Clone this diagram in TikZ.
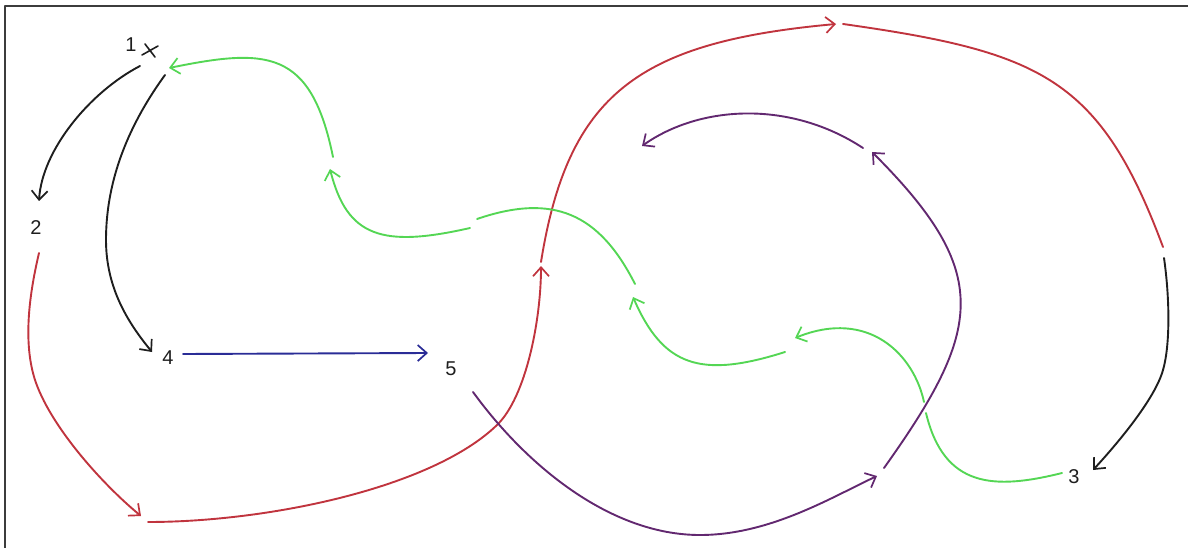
\documentclass[tikz,border=0pt]{standalone}
\usepackage{fontspec}
\setmainfont{Liberation Sans}
\usetikzlibrary{arrows.meta}
\definecolor{cred}{RGB}{192,52,62}
\definecolor{cgreen}{RGB}{84,214,84}
\definecolor{cpurple}{RGB}{98,40,112}
\definecolor{cblue}{RGB}{42,44,150}
\definecolor{cblack}{RGB}{30,30,30}
\definecolor{cframe}{RGB}{60,60,60}
\begin{document}
\begin{tikzpicture}[x=1pt,y=-1pt,line cap=round,line join=round,
  tipped/.style={line width=1.9pt,-{Straight Barb[length=9pt,width=16pt,line width=1.7pt]}},
  plain/.style={line width=1.9pt},
  lbl/.style={font=\fontsize{20}{22}\selectfont,inner sep=0pt,text=cblack}]
\useasboundingbox (0,0) rectangle (1188,548);
\draw[cframe,line width=1.8pt] (5,548) -- (5,6) -- (1188,6);
% labels
\node[lbl] (n1) at (131,45) {1};
\node[lbl] (n2) at (36,228) {2};
\node[lbl] (n3) at (1074,477) {3};
\node[lbl] (n4) at (168,358) {4};
\node[lbl] (n5) at (451,369) {5};
% cross mark beside 1
\draw[cblack,line width=1.6pt] (145,44) -- (155,57) (142,55) -- (158,46);
% named end points
\coordinate (b1s) at (140,66);  \coordinate (b1e) at (39,201);
\coordinate (b2s) at (165,75);  \coordinate (b2e) at (152,352);
\coordinate (bls) at (183,354); \coordinate (ble) at (428,353);
\coordinate (ras) at (39,253);  \coordinate (rae) at (141,516);
\coordinate (rbs) at (148,522); \coordinate (rbe) at (541,266);
\coordinate (rcs) at (541,262); \coordinate (rce) at (836,24);
\coordinate (rds) at (843,24);  \coordinate (rde) at (1163,247);
\coordinate (bes) at (1164,258);\coordinate (bee) at (1093,470);
\coordinate (pas) at (473,392); \coordinate (pae) at (877,476);
\coordinate (pbs) at (884,468); \coordinate (pbe) at (872,152);
\coordinate (pcs) at (863,148); \coordinate (pce) at (642,146);
\coordinate (gas) at (1062,473);\coordinate (gam) at (926,413);
\coordinate (gan) at (924,402); \coordinate (gae) at (795,338);
\coordinate (gbs) at (785,352); \coordinate (gbe) at (633,297);
\coordinate (gcs) at (635,284); \coordinate (gce) at (477,219);
\coordinate (gds) at (470,228); \coordinate (gde) at (330,169);
\coordinate (ges) at (333,157); \coordinate (gee) at (169,68);
% black
\draw[tipped,cblack] (b1s) .. controls (90,92) and (42,150) .. (b1e);
\draw[tipped,cblack] (b2s) .. controls (125,130) and (106,185) .. (106,240)
                          .. controls (106,290) and (130,325) .. (b2e);
% blue
\draw[tipped,cblue] (bls) -- (ble);
% red chain
\draw[tipped,cred] (ras) .. controls (31,287) and (23,334) .. (33,373)
                        .. controls (45,421) and (102,484) .. (rae);
\draw[tipped,cred] (rbs) .. controls (268,522) and (432,488) .. (497,425)
                        .. controls (526,397) and (541,320) .. (rbe);
\draw[tipped,cred] (rcs) .. controls (568,94) and (638,42) .. (rce);
\draw[plain,cred] (rds) .. controls (1041,52) and (1100,78) .. (rde);
\draw[tipped,cblack] (bes) .. controls (1170,300) and (1170,346) .. (1163,370)
                          .. controls (1155,399) and (1117,444) .. (bee);
% purple
\draw[tipped,cpurple] (pas) .. controls (526,465) and (610,535) .. (700,535)
                           .. controls (770,535) and (832,497) .. (pae);
\draw[tipped,cpurple] (pbs) .. controls (983,329) and (993,273) .. (pbe);
\draw[tipped,cpurple] (pcs) .. controls (790,100) and (700,105) .. (pce);
% green
\draw[plain,cgreen] (gas) .. controls (994,490) and (944,488) .. (gam);
\draw[tipped,cgreen] (gan) .. controls (914,355) and (869,308) .. (gae);
\draw[tipped,cgreen] (gbs) .. controls (700,379) and (663,366) .. (gbe);
\draw[plain,cgreen] (gcs) .. controls (599,213) and (553,193) .. (gce);
\draw[tipped,cgreen] (gds) .. controls (382,248) and (347,237) .. (gde);
\draw[tipped,cgreen] (ges) .. controls (311,49) and (267,48) .. (gee);
\end{tikzpicture}
\end{document}
